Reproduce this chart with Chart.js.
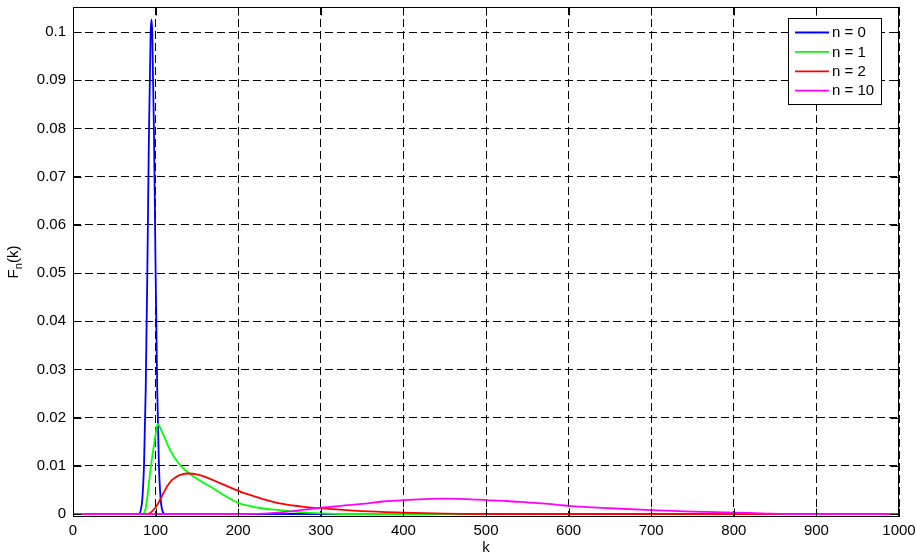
<!DOCTYPE html>
<html>
<head>
<meta charset="utf-8">
<script src="https://cdn.jsdelivr.net/npm/chart.js@4"></script>
<style>
  html, body { margin: 0; padding: 0; background: #ffffff; }
  #wrap { width: 916px; height: 554px; }
</style>
</head>
<body>
<div id="wrap"><canvas id="chart" width="916" height="554"></canvas></div>
<script>
// F_n(k) for several n, sampled at k positions per curve
const seriesNames = ['n = 0', 'n = 1', 'n = 2', 'n = 10'];

const k0 = [0, 80, 82, 84, 86, 88, 90, 92, 94, 95, 96, 98, 100, 102, 104, 106, 108, 110, 112, 1000];
const f0 = [0, 0, 0.0008, 0.0033, 0.0103, 0.0256, 0.0505, 0.0795, 0.0997, 0.1026, 0.0997, 0.0795, 0.0505, 0.0256, 0.0103, 0.0033, 0.0008, 0.0001, 0, 0];

const k1 = [0, 84, 86, 88, 90, 92, 94, 96, 98, 100, 101, 103, 105, 110, 115, 120, 125, 130, 140, 150, 160, 170, 185, 200, 225, 250, 275, 300, 330, 1000];
const f1 = [0, 0, 0.0002, 0.0012, 0.0035, 0.0065, 0.0095, 0.0119, 0.0143, 0.0166, 0.0178, 0.0187, 0.0181, 0.0162, 0.0142, 0.0125, 0.0112, 0.0101, 0.0085, 0.0073, 0.0063, 0.0053, 0.0037, 0.0023, 0.0013, 0.0008, 0.0004, 0.00015, 0, 0];

const k2 = [0, 88, 92, 96, 100, 105, 110, 115, 120, 125, 130, 140, 150, 160, 170, 185, 200, 215, 230, 250, 275, 300, 350, 400, 450, 500, 1000];
const f2 = [0, 0, 0.0001, 0.0006, 0.0014, 0.0028, 0.0045, 0.0060, 0.0071, 0.0077, 0.0081, 0.0084, 0.0082, 0.0077, 0.0070, 0.0059, 0.0048, 0.0039, 0.0031, 0.0022, 0.0016, 0.0012, 0.0006, 0.0003, 0.0001, 0, 0];

const k10 = [0, 200, 230, 260, 280, 300, 325, 350, 375, 400, 425, 450, 475, 500, 525, 550, 575, 600, 650, 700, 750, 800, 840, 870, 1000];
const f10 = [0, 0, 0.0001, 0.0005, 0.0009, 0.0013, 0.0017, 0.0021, 0.0026, 0.0029, 0.0031, 0.0032, 0.0031, 0.0029, 0.0027, 0.0024, 0.0021, 0.0017, 0.0012, 0.0008, 0.0005, 0.0003, 0.0001, 0, 0];

const xTicks = [0, 100, 200, 300, 400, 500, 600, 700, 800, 900, 1000];
const xTickLabels = ['0', '100', '200', '300', '400', '500', '600', '700', '800', '900', '1000'];
const yTicks = [0, 0.01, 0.02, 0.03, 0.04, 0.05, 0.06, 0.07, 0.08, 0.09, 0.1];
const yTickLabels = ['0', '0.01', '0.02', '0.03', '0.04', '0.05', '0.06', '0.07', '0.08', '0.09', '0.1'];
const xTitle = 'k';

// styling
const colors = ['#0000ff', '#00ff00', '#ff0000', '#ff00ff'];
const FONT = '"Liberation Sans", Arial, Helvetica, sans-serif';
const FONT_SIZE = 15;

function pts(ks, fs) {
  return ks.map((k, i) => ({ x: k, y: fs[i] }));
}
const series = [[k0, f0], [k1, f1], [k2, f2], [k10, f10]];

const datasets = series.map((s, i) => ({
  label: seriesNames[i],
  data: pts(s[0], s[1]),
  showLine: true,
  borderColor: colors[i],
  backgroundColor: colors[i],
  borderWidth: 1.8,
  pointRadius: 0,
  cubicInterpolationMode: 'monotone',
  fill: false,
  order: series.length - i   // later curves drawn on top
}));

// fixed axis boxes: no extra label overhang padding
function fixBox(size, prop) {
  return s => {
    s[prop] = size;
    s.paddingTop = 0; s.paddingBottom = 0; s.paddingLeft = 0; s.paddingRight = 0;
  };
}

// box, inward ticks, legend and axis titles
const framePlugin = {
  id: 'frame',
  afterDatasetsDraw(chart) {
    const ctx = chart.ctx;
    const a = chart.chartArea;
    const xs = chart.scales.x, ys = chart.scales.y;
    const L = Math.round(a.left) + 0.5, R = Math.round(a.right) - 0.5;
    const T = Math.round(a.top) + 0.5, B = Math.round(a.bottom) - 0.5;
    ctx.save();
    ctx.strokeStyle = '#000';
    ctx.lineWidth = 1;
    ctx.setLineDash([]);
    ctx.strokeRect(L, T, R - L, B - T);
    const tl = 8;
    ctx.beginPath();
    xTicks.forEach(v => {
      const px = Math.round(xs.getPixelForValue(v)) + 0.5;
      ctx.moveTo(px, B); ctx.lineTo(px, B - tl);
      ctx.moveTo(px, T); ctx.lineTo(px, T + tl);
    });
    yTicks.forEach(v => {
      const py = Math.round(ys.getPixelForValue(v)) + 0.5;
      ctx.moveTo(L, py); ctx.lineTo(L + tl, py);
      ctx.moveTo(R, py); ctx.lineTo(R - tl, py);
    });
    ctx.stroke();

    // legend box
    const lx = 788.5, ly = 18.5, lw = 93, lh = 86;
    ctx.fillStyle = '#fff';
    ctx.fillRect(lx, ly, lw, lh);
    ctx.strokeRect(lx, ly, lw, lh);
    ctx.font = FONT_SIZE + 'px ' + FONT;
    ctx.textBaseline = 'middle';
    ctx.textAlign = 'left';
    seriesNames.forEach((name, i) => {
      const y = 32.5 + i * 19.4;
      ctx.strokeStyle = colors[i];
      ctx.lineWidth = 1.8;
      ctx.beginPath();
      ctx.moveTo(795, y); ctx.lineTo(829, y);
      ctx.stroke();
      ctx.fillStyle = '#000';
      ctx.fillText(name, 832, y + 0.5);
    });

    // x axis title
    ctx.fillStyle = '#000';
    ctx.textAlign = 'center';
    ctx.textBaseline = 'middle';
    ctx.font = FONT_SIZE + 'px ' + FONT;
    ctx.fillText(xTitle, (a.left + a.right) / 2, 548);

    // y axis title F_n(k)
    ctx.translate(13, (a.top + a.bottom) / 2);
    ctx.rotate(-Math.PI / 2);
    ctx.textAlign = 'left';
    ctx.textBaseline = 'alphabetic';
    const mainFont = FONT_SIZE + 'px ' + FONT;
    const subFont = '11px ' + FONT;
    ctx.font = mainFont; const wF = ctx.measureText('F').width; const wK = ctx.measureText('(k)').width;
    ctx.font = subFont; const wN = ctx.measureText('n').width;
    let x0 = -(wF + wN + wK) / 2;
    ctx.font = mainFont; ctx.fillText('F', x0, 5);
    ctx.font = subFont; ctx.fillText('n', x0 + wF, 9);
    ctx.font = mainFont; ctx.fillText('(k)', x0 + wF + wN, 5);
    ctx.restore();
  }
};

new Chart(document.getElementById('chart'), {
  type: 'scatter',
  data: { datasets },
  options: {
    responsive: false,
    animation: false,
    devicePixelRatio: 1,
    layout: { padding: { left: 0, right: 17, top: 7, bottom: 0 } },
    plugins: { legend: { display: false }, tooltip: { enabled: false } },
    scales: {
      x: {
        type: 'linear',
        min: 0, max: 1000,
        afterBuildTicks: s => { s.ticks = xTicks.map(v => ({ value: v })); },
        afterFit: fixBox(37, 'height'),
        grid: { color: '#000', lineWidth: 1, drawTicks: false },
        border: { display: false, dash: [8, 4] },
        ticks: {
          color: '#000', padding: 5, maxRotation: 0, autoSkip: false,
          font: { family: FONT, size: FONT_SIZE },
          callback: (v, i) => xTickLabels[i]
        }
      },
      y: {
        type: 'linear',
        min: -0.00062, max: 0.10519,
        afterBuildTicks: s => { s.ticks = yTicks.map(v => ({ value: v })); },
        afterFit: fixBox(73, 'width'),
        grid: { color: '#000', lineWidth: 1, drawTicks: false },
        border: { display: false, dash: [8, 4] },
        ticks: {
          color: '#000', padding: 7, autoSkip: false,
          font: { family: FONT, size: FONT_SIZE },
          callback: (v, i) => yTickLabels[i]
        }
      }
    }
  },
  plugins: [framePlugin]
});
</script>
</body>
</html>
